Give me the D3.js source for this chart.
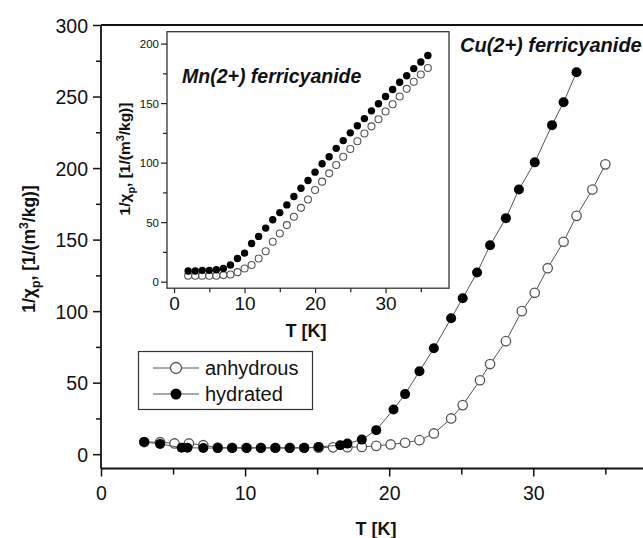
<!DOCTYPE html>
<html>
<head>
<meta charset="utf-8">
<script src="https://cdnjs.cloudflare.com/ajax/libs/d3/7.8.5/d3.min.js"></script>
<style>
  html, body { margin: 0; padding: 0; background: #fff; }
  svg { display: block; font-family: "Liberation Sans", Arial, sans-serif; }
</style>
</head>
<body>
<svg id="chart" width="643" height="538"></svg>
<script>
// ---- Main chart data (Cu(2+) ferricyanide) ----
const mainAnhT = [3.0, 4.1, 5.1, 6.1, 7.1, 8.1, 9.1, 10.1, 11.1, 12.1, 13.1, 14.1, 15.1, 16.1, 17.1, 18.1, 19.1, 20.1, 21.1, 22.1, 23.1, 24.3, 25.1, 26.3, 27.0, 28.1, 29.2, 30.1, 31.0, 32.1, 33.0, 34.1, 35.0];
const mainAnhY = [8.5, 8.4, 7.5, 7.5, 6.3, 4.6, 4.5, 4.5, 4.5, 4.5, 4.5, 4.5, 4.6, 4.8, 4.9, 5.1, 5.8, 6.8, 8.0, 9.8, 14.5, 25.0, 34.3, 51.7, 63.0, 79.0, 100.0, 112.8, 130.0, 148.5, 166.6, 185.0, 202.6];
const mainHydT = [3.0, 4.1, 5.6, 6.0, 7.1, 8.1, 9.1, 10.1, 11.1, 12.1, 13.1, 14.1, 15.1, 16.6, 17.1, 18.1, 19.1, 20.3, 21.1, 22.1, 23.1, 24.3, 25.1, 26.1, 27.0, 28.1, 29.0, 30.1, 31.3, 32.1, 33.0];
const mainHydY = [8.5, 7.2, 4.5, 4.5, 4.3, 4.3, 4.3, 4.3, 4.3, 4.3, 4.3, 4.4, 5.1, 6.3, 7.4, 10.2, 16.8, 31.3, 42.0, 58.0, 74.0, 95.0, 109.0, 127.0, 146.0, 165.0, 185.0, 204.0, 230.0, 246.0, 267.0];

// ---- Inset data (Mn(2+) ferricyanide) ----
const insetT = [2, 3, 4, 5, 6, 7, 8, 9, 10, 11, 12, 13, 14, 15, 16, 17, 18, 19, 20, 21, 22, 23, 24, 25, 26, 27, 28, 29, 30, 31, 32, 33, 34, 35, 36];
const insetAnhY = [5, 5, 5, 5, 5, 5.5, 6, 8, 11, 14, 19.5, 25.5, 33.5, 40.5, 47.5, 54.5, 62, 69, 77, 84, 91, 98, 105, 111.5, 118, 124.5, 130.5, 136.5, 143, 149, 155.5, 162, 168, 174, 179.5];
const insetHydY = [9, 9, 9.5, 9.5, 10, 11, 14, 19.5, 24, 32, 38, 45, 52, 58, 64.5, 71.5, 78.5, 85, 92, 99, 105, 112, 118.5, 125, 131, 137, 143.5, 149.5, 155.5, 161.5, 167.5, 173, 179, 184.5, 190];

// ---- Ticks / labels ----
const mainXTicks = [0, 10, 20, 30];
const mainXMinor = [5, 15, 25, 35];
const mainYTicks = [0, 50, 100, 150, 200, 250, 300];
const mainYMinor = [25, 75, 125, 175, 225, 275];
const insetXTicks = [0, 10, 20, 30];
const insetXMinor = [5, 15, 25, 35];
const insetYTicks = [0, 50, 100, 150, 200];
const insetYMinor = [25, 75, 125, 175];
const seriesNames = ["anhydrous", "hydrated"];

const svg = d3.select("#chart");
const FONT = "Liberation Sans, Arial, sans-serif";

// ---- Main scales ----
const x = d3.scaleLinear().domain([0, 38]).range([101, 101 + 38 * 14.41]);
const y = d3.scaleLinear().domain([-10, 300]).range([468.5, 25]);

const axisColor = "#111";

// top frame line
svg.append("line").attr("x1", x(0)).attr("x2", 643).attr("y1", y(300)).attr("y2", y(300))
  .attr("stroke", axisColor).attr("stroke-width", 1.8);

// Main X axis
const gx = svg.append("g").attr("transform", `translate(0,${y(-10)})`)
  .call(d3.axisBottom(x).tickValues(mainXTicks).tickSize(8).tickFormat(d3.format("d")));
svg.append("g").attr("transform", `translate(0,${y(-10)})`)
  .call(d3.axisBottom(x).tickValues(mainXMinor).tickSize(6).tickFormat(""))
  .call(g => g.select(".domain").remove());
gx.select(".domain").attr("d", `M${x(0)},0H643`);
// Main Y axis
const gy = svg.append("g").attr("transform", `translate(${x(0)},0)`)
  .call(d3.axisLeft(y).tickValues(mainYTicks).tickSize(8).tickFormat(d3.format("d")));
svg.append("g").attr("transform", `translate(${x(0)},0)`)
  .call(d3.axisLeft(y).tickValues(mainYMinor).tickSize(5).tickFormat(""))
  .call(g => g.select(".domain").remove());
gy.select(".domain").attr("d", `M0,${y(300)}V${y(-10)}`);

svg.selectAll(".domain").attr("stroke", axisColor).attr("stroke-width", 1.8);
svg.selectAll(".tick line").attr("stroke", axisColor).attr("stroke-width", 1.5);
gx.selectAll(".tick text").attr("y", 31).attr("dy", 0)
  .attr("font-size", 19.5).attr("font-family", FONT).attr("fill", "#111");
gy.selectAll(".tick text").attr("x", -13).attr("dy", "0.36em")
  .attr("font-size", 19.5).attr("font-family", FONT).attr("fill", "#111");

// Main axis titles
svg.append("text").attr("x", 376).attr("y", 535).attr("text-anchor", "middle")
  .attr("font-size", 18).attr("font-weight", "bold").attr("fill", "#111").text("T [K]");

function yTitle(sel, size) {
  sel.append("tspan").text("1/χ");
  sel.append("tspan").attr("dy", size * 0.3).attr("font-size", size * 0.7).text("p");
  sel.append("tspan").attr("dy", -size * 0.3).text(", [1/(m");
  sel.append("tspan").attr("dy", -size * 0.4).attr("font-size", size * 0.7).text("3");
  sel.append("tspan").attr("dy", size * 0.4).text("/kg)]");
}
const mt = svg.append("text").attr("transform", "translate(35,249) rotate(-90)")
  .attr("text-anchor", "middle").attr("font-size", 17.5).attr("font-weight", "bold").attr("fill", "#111");
yTitle(mt, 17.5);

// Main data
const line = (xs, ys, sx, sy) => d3.line().x(d => sx(d[0])).y(d => sy(d[1]))(xs.map((t, i) => [t, ys[i]]));

svg.append("path").attr("d", line(mainAnhT, mainAnhY, x, y)).attr("fill", "none")
  .attr("stroke", "#555").attr("stroke-width", 1);
svg.append("g").selectAll("circle").data(mainAnhT).join("circle")
  .attr("cx", d => x(d)).attr("cy", (d, i) => y(mainAnhY[i])).attr("r", 4.7)
  .attr("fill", "#fff").attr("stroke", "#555").attr("stroke-width", 1.3);
svg.append("path").attr("d", line(mainHydT, mainHydY, x, y)).attr("fill", "none")
  .attr("stroke", "#555").attr("stroke-width", 1);
svg.append("g").selectAll("circle").data(mainHydT).join("circle")
  .attr("cx", d => x(d)).attr("cy", (d, i) => y(mainHydY[i])).attr("r", 5)
  .attr("fill", "#000");

svg.append("text").attr("x", 460).attr("y", 52).attr("font-size", 20)
  .attr("font-weight", "bold").attr("font-style", "italic").attr("fill", "#111").text("Cu(2+) ferricyanide");

// Legend
const lg = svg.append("g");
lg.append("rect").attr("x", 138.5).attr("y", 351.5).attr("width", 174).attr("height", 58)
  .attr("fill", "#fff").attr("stroke", "#333").attr("stroke-width", 1.2);
const legY = [368, 394];
seriesNames.forEach((name, i) => {
  lg.append("line").attr("x1", 153).attr("x2", 199).attr("y1", legY[i]).attr("y2", legY[i])
    .attr("stroke", "#555").attr("stroke-width", 1);
  lg.append("circle").attr("cx", 176).attr("cy", legY[i]).attr("r", 5.5)
    .attr("fill", i === 0 ? "#fff" : "#000").attr("stroke", i === 0 ? "#555" : "none").attr("stroke-width", 1.3);
  lg.append("text").attr("x", 205).attr("y", legY[i] + 7).attr("font-size", 20).attr("fill", "#111").text(name);
});

// ---- Inset ----
const ix = d3.scaleLinear().domain([-1, 39]).range([167, 449]);
const iy = d3.scaleLinear().domain([-5.5, 210]).range([288.2, 31.7]);

svg.append("rect").attr("x", ix(-1)).attr("y", iy(210)).attr("width", ix(39) - ix(-1))
  .attr("height", iy(-5.5) - iy(210)).attr("fill", "#fff").attr("stroke", "#333").attr("stroke-width", 1.3);

const igx = svg.append("g").attr("transform", `translate(0,${iy(-5.5)})`)
  .call(d3.axisBottom(ix).tickValues(insetXTicks).tickSize(5).tickFormat(d3.format("d")));
const igxm = svg.append("g").attr("transform", `translate(0,${iy(-5.5)})`)
  .call(d3.axisBottom(ix).tickValues(insetXMinor).tickSize(4).tickFormat(""));
const igy = svg.append("g").attr("transform", `translate(${ix(-1)},0)`)
  .call(d3.axisLeft(iy).tickValues(insetYTicks).tickSize(6).tickFormat(d3.format("d")));
const igym = svg.append("g").attr("transform", `translate(${ix(-1)},0)`)
  .call(d3.axisLeft(iy).tickValues(insetYMinor).tickSize(4).tickFormat(""));
[igx, igxm, igy, igym].forEach(g => {
  g.select(".domain").remove();
  g.selectAll(".tick line").attr("stroke", "#222").attr("stroke-width", 1.2);
});
igx.selectAll(".tick text").attr("y", 22).attr("dy", 0).attr("font-size", 19)
  .attr("font-family", FONT).attr("fill", "#111");
igy.selectAll(".tick text").attr("x", -8).attr("dy", "0.36em").attr("font-size", 11.5)
  .attr("font-family", FONT).attr("fill", "#111");

svg.append("text").attr("x", 306).attr("y", 337).attr("text-anchor", "middle")
  .attr("font-size", 18).attr("font-weight", "bold").attr("fill", "#111").text("T [K]");
const it = svg.append("text").attr("transform", "translate(130,159) rotate(-90)")
  .attr("text-anchor", "middle").attr("font-size", 15.5).attr("font-weight", "bold").attr("fill", "#111");
yTitle(it, 15.5);

svg.append("g").selectAll("circle").data(insetT).join("circle")
  .attr("cx", d => ix(d)).attr("cy", (d, i) => iy(insetAnhY[i])).attr("r", 3.5)
  .attr("fill", "#fff").attr("stroke", "#555").attr("stroke-width", 1.1);
svg.append("g").selectAll("circle").data(insetT).join("circle")
  .attr("cx", d => ix(d)).attr("cy", (d, i) => iy(insetHydY[i])).attr("r", 3.7)
  .attr("fill", "#000");

svg.append("text").attr("x", 182).attr("y", 83).attr("font-size", 19.5)
  .attr("font-weight", "bold").attr("font-style", "italic").attr("fill", "#111").text("Mn(2+) ferricyanide");
</script>
</body>
</html>
